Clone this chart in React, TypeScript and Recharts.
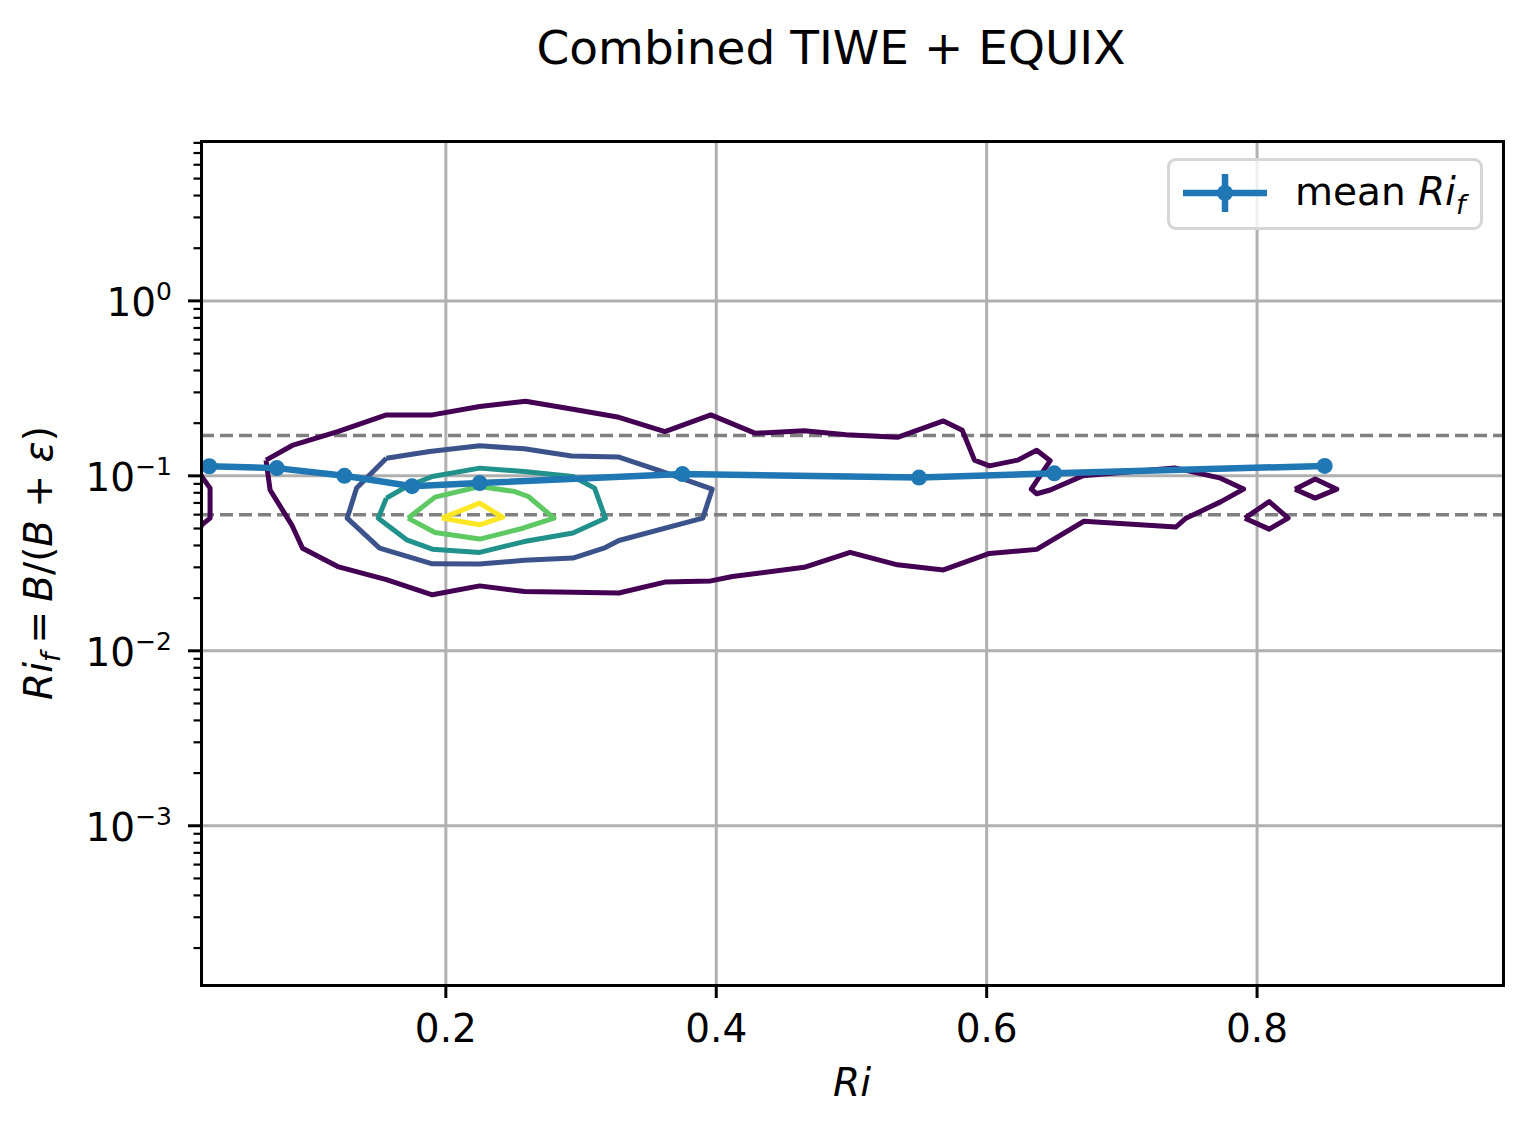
import React from 'react'
import { ComposedChart, Scatter, XAxis, YAxis, CartesianGrid, ReferenceLine } from 'recharts'

// axes
const X_DOMAIN = [0.0189, 0.9819]
const Y_DOMAIN = [1.23e-4, 8.2]
const X_TICKS = [0.2, 0.4, 0.6, 0.8]
const X_TICK_LABELS = ['0.2', '0.4', '0.6', '0.8']
const Y_MAJOR = [1e-3, 1e-2, 1e-1, 1]
const Y_EXP = ['\u22123', '\u22122', '\u22121', '0']
const REF_LEVELS = [0.17, 0.06]

// mean Ri_f per Ri bin
const MEAN_X = [0.025, 0.075, 0.125, 0.175, 0.225, 0.375, 0.55, 0.65, 0.85]
const MEAN_Y = [0.1135, 0.1107, 0.1, 0.0873, 0.0909, 0.1024, 0.0977, 0.1034, 0.114]

// contour paths, [Ri, Ri_f]
const LEVEL1_MAIN = [
  [0.067, 0.123], [0.087, 0.150], [0.120, 0.179], [0.156, 0.223], [0.190, 0.223], [0.225, 0.249],
  [0.259, 0.267], [0.294, 0.240], [0.328, 0.216], [0.362, 0.179], [0.396, 0.223], [0.429, 0.175],
  [0.465, 0.181], [0.496, 0.172], [0.534, 0.166], [0.568, 0.206], [0.582, 0.182], [0.591, 0.123],
  [0.602, 0.114], [0.623, 0.123], [0.637, 0.140], [0.647, 0.122], [0.633, 0.084], [0.637, 0.079],
  [0.647, 0.083], [0.671, 0.100], [0.739, 0.111], [0.773, 0.097], [0.790, 0.084], [0.773, 0.071],
  [0.747, 0.057], [0.740, 0.051], [0.672, 0.055], [0.637, 0.038], [0.602, 0.036], [0.568, 0.029],
  [0.534, 0.031], [0.499, 0.0365], [0.465, 0.030], [0.412, 0.0266], [0.396, 0.0251], [0.362, 0.0247],
  [0.328, 0.0214], [0.294, 0.0216], [0.258, 0.0218], [0.225, 0.0235], [0.190, 0.0209], [0.156, 0.0255],
  [0.120, 0.0303], [0.094, 0.0386], [0.086, 0.0525], [0.070, 0.083], [0.067, 0.123],
]
const LEVEL1_EDGE = [[0.0189, 0.102], [0.0195, 0.099], [0.0256, 0.0851], [0.0256, 0.0573], [0.0195, 0.0525], [0.0189, 0.051]]
const LEVEL1_ISLAND_A = [[0.791, 0.0573], [0.809, 0.0713], [0.823, 0.0573], [0.809, 0.0496], [0.791, 0.0573]]
const LEVEL1_ISLAND_B = [[0.828, 0.0839], [0.843, 0.0958], [0.859, 0.0839], [0.843, 0.0746], [0.828, 0.0839]]
const LEVEL2 = [
  [0.156, 0.1262], [0.188, 0.1377], [0.225, 0.1484], [0.258, 0.1427], [0.293, 0.130], [0.328, 0.128],
  [0.358, 0.1072], [0.397, 0.0839], [0.390, 0.0573], [0.328, 0.0427], [0.318, 0.0389], [0.294, 0.0339],
  [0.258, 0.0329], [0.225, 0.0313], [0.190, 0.0314], [0.151, 0.0386], [0.127, 0.0573], [0.134, 0.0851],
  [0.156, 0.1262],
]
const LEVEL3 = [
  [0.156, 0.0746], [0.171, 0.0869], [0.190, 0.0991], [0.225, 0.1107], [0.258, 0.1059], [0.294, 0.0991],
  [0.310, 0.0851], [0.318, 0.0573], [0.294, 0.0471], [0.258, 0.0421], [0.225, 0.0365], [0.190, 0.0381],
  [0.171, 0.0431], [0.150, 0.0573], [0.156, 0.0746],
]
const LEVEL4 = [
  [0.172, 0.0573], [0.192, 0.0756], [0.225, 0.0869], [0.251, 0.0813], [0.261, 0.0762], [0.280, 0.0573],
  [0.257, 0.0502], [0.225, 0.0435], [0.192, 0.0474], [0.172, 0.0573],
]
const LEVEL5 = [[0.197, 0.0573], [0.225, 0.0698], [0.242, 0.0581], [0.225, 0.0525], [0.197, 0.0573]]

const VIRIDIS = ['#440154', '#3b528b', '#21918c', '#5ec962', '#fde725']

const CONTOURS = [
  { pts: LEVEL1_MAIN, color: VIRIDIS[0] },
  { pts: LEVEL1_EDGE, color: VIRIDIS[0] },
  { pts: LEVEL1_ISLAND_A, color: VIRIDIS[0] },
  { pts: LEVEL1_ISLAND_B, color: VIRIDIS[0] },
  { pts: LEVEL2, color: VIRIDIS[1] },
  { pts: LEVEL3, color: VIRIDIS[2] },
  { pts: LEVEL4, color: VIRIDIS[3] },
  { pts: LEVEL5, color: VIRIDIS[4] },
].map(c => ({ color: c.color, data: c.pts.map(([x, y]) => ({ x, y })) }))

const MEAN_DATA = MEAN_X.map((x, i) => ({ x, y: MEAN_Y[i] }))

const Y_MINOR: number[] = []
for (let e = -4; e <= 0; e++) {
  for (let m = 2; m <= 9; m++) {
    const v = m * Math.pow(10, e)
    if (v >= Y_DOMAIN[0] && v <= Y_DOMAIN[1]) Y_MINOR.push(v)
  }
}
const Y_TICKS = [...Y_MAJOR, ...Y_MINOR].sort((a, b) => a - b)

const FONT = '"DejaVu Sans", sans-serif'
const BLUE = '#1f77b4'
const W = 1530
const H = 1132
const M = { top: 141, right: 27, left: 0, bottom: 0 }
const Y_AXIS_W = 201
const X_AXIS_H = 147

const YTick = (props: any) => {
  const { x, y, payload } = props
  const idx = Y_MAJOR.findIndex(m => Math.abs(m - payload.value) / m < 1e-9)
  const major = idx >= 0
  return (
    <g>
      <line x1={x - (major ? 13 : 7.5)} x2={x} y1={y} y2={y} stroke="#000" strokeWidth={major ? 3 : 2.2} />
      {major && (
        <text x={x - 29} y={y + 15.5} textAnchor="end" fontSize={39} fontFamily={FONT} fill="#000">
          <tspan>10</tspan>
          <tspan dy={-16} fontSize={25}>{Y_EXP[idx]}</tspan>
        </text>
      )}
    </g>
  )
}

const XTick = (props: any) => {
  const { x, y, payload } = props
  const idx = X_TICKS.indexOf(payload.value)
  return (
    <g>
      <line x1={x} x2={x} y1={y} y2={y + 13} stroke="#000" strokeWidth={3} />
      <text x={x} y={y + 57} textAnchor="middle" fontSize={39} fontFamily={FONT} fill="#000">
        {X_TICK_LABELS[idx]}
      </text>
    </g>
  )
}

const noDot = () => <g />
const meanDot = (p: any) => <circle cx={p.cx} cy={p.cy} r={8} fill={BLUE} />

export default function App() {
  return (
    <div style={{ position: 'relative', width: W, height: H, background: '#fff', fontFamily: FONT }}>
      <style>{`body{margin:0;background:#fff}`}</style>
      <ComposedChart width={W} height={H} margin={M}>
        <CartesianGrid horizontalValues={Y_MAJOR} verticalValues={X_TICKS} stroke="#b0b0b0" strokeWidth={3} />
        <XAxis
          type="number"
          dataKey="x"
          domain={X_DOMAIN}
          allowDataOverflow
          ticks={X_TICKS}
          interval={0}
          height={X_AXIS_H}
          axisLine={false}
          tickLine={false}
          tickSize={0}
          tickMargin={0}
          tick={<XTick />}
        />
        <YAxis
          type="number"
          dataKey="y"
          scale="log"
          domain={Y_DOMAIN}
          allowDataOverflow
          ticks={Y_TICKS}
          interval={0}
          width={Y_AXIS_W}
          axisLine={false}
          tickLine={false}
          tickSize={0}
          tickMargin={0}
          tick={<YTick />}
        />
        {CONTOURS.map((c, i) => (
          <Scatter
            key={i}
            data={c.data}
            fill={c.color}
            line={{ stroke: c.color, strokeWidth: 5, strokeLinejoin: 'round' }}
            lineType="joint"
            shape={noDot}
            isAnimationActive={false}
          />
        ))}
        {REF_LEVELS.map(v => (
          <ReferenceLine key={v} y={v} stroke="#808080" strokeWidth={3.5} strokeDasharray="13 6" />
        ))}
        <Scatter
          data={MEAN_DATA}
          fill={BLUE}
          line={{ stroke: BLUE, strokeWidth: 6.5 }}
          lineType="joint"
          shape={meanDot}
          isAnimationActive={false}
        />
      </ComposedChart>

      {/* axes frame */}
      <div style={{ position: 'absolute', left: 199.5, top: 139.5, width: 1305, height: 847, border: '3px solid #000', boxSizing: 'border-box', pointerEvents: 'none' }} />

      {/* title */}
      <div style={{ position: 'absolute', left: 0, width: 1662, top: 20, textAlign: 'center', fontSize: 47, lineHeight: '56px', color: '#000' }}>
        Combined TIWE + EQUIX
      </div>

      {/* x label */}
      <div style={{ position: 'absolute', left: 201, width: 1302, top: 1060, textAlign: 'center', fontSize: 39, lineHeight: '46px', fontStyle: 'italic' }}>
        Ri
      </div>

      {/* y label */}
      <div style={{ position: 'absolute', left: 45, top: 563, transform: 'translate(-50%, -50%) rotate(-90deg)', whiteSpace: 'nowrap', fontSize: 39, lineHeight: '46px' }}>
        <i>Ri</i><sub style={{ fontSize: 27, fontStyle: 'italic' }}>f</sub>
        <span style={{ margin: '0 9px' }}>=</span>
        <i>B</i>/(<i>B</i> + <i>ε</i>)
      </div>

      {/* legend */}
      <div style={{ position: 'absolute', left: 1167, top: 158, width: 316, height: 72, border: '3px solid #d6d6d6', borderRadius: 9, boxSizing: 'border-box', background: 'rgba(255,255,255,0.8)' }}>
        <svg width={100} height={66} style={{ position: 'absolute', left: 10, top: 0 }}>
          <line x1={3} x2={87} y1={32} y2={32} stroke={BLUE} strokeWidth={6.5} />
          <line x1={45} x2={45} y1={13} y2={51} stroke={BLUE} strokeWidth={6.5} />
          <circle cx={45} cy={32} r={8} fill={BLUE} />
        </svg>
        <div style={{ position: 'absolute', left: 125, top: 8, fontSize: 39, lineHeight: '46px', whiteSpace: 'nowrap' }}>
          mean <i>Ri</i><sub style={{ fontSize: 27, fontStyle: 'italic' }}>f</sub>
        </div>
      </div>
    </div>
  )
}
